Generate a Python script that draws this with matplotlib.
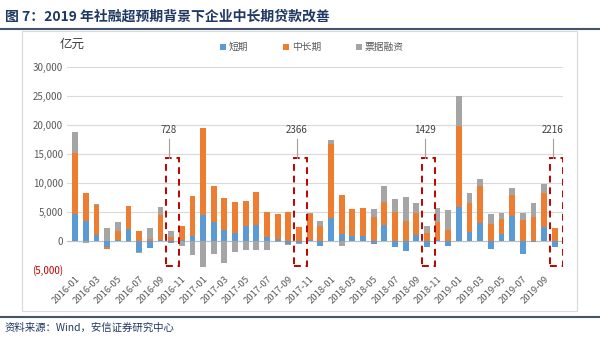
import matplotlib.pyplot as plt
import matplotlib.patches as mpatches
import numpy as np

plt.rcParams['font.family'] = ['Noto Sans CJK SC', 'DejaVu Sans']

# 月份 2016-01 ~ 2019-10
months = [f'{y}-{m:02d}' for y in range(2016, 2020) for m in range(1, 13)][:46]

# 亿元
short_term = [4600, 3400, 1000, -1100, 100, 2000, -1900, -1200, 200, -300, 200, 900,
              4400, 3300, 1900, 1400, 2500, 2700, 600, 300, -600, -400, 100, -900,
              3900, 1250, 800, 800, -450, 2700, -1000, -1650, 1000, -1100, 100, -800,
              5850, 1500, 3100, -1350, 1200, 4300, -2200, -200, 2450, -1100]
mid_long = [10600, 4900, 5200, -200, 1700, 4100, 1800, 300, 4200, 728, 2300, 6800,
            15000, 6100, 5500, 5300, 4400, 5700, 4400, 4300, 5000, 2366, 4600, 2600,
            12900, 6700, 4650, 4800, 4200, 4000, 5000, 3400, 3900, 1429, 3100, 1900,
            14000, 5000, 6400, 3000, 2550, 3700, 3600, 4200, 5850, 2216]
bill = [3600, -400, 200, 2300, 1500, -100, -100, 1900, 1400, 1000, -900, -2500,
        -4500, -2300, -3800, -1900, -1600, -1500, -1600, -100, -100, -200, 200, 900,
        600, -800, 100, 50, 1250, 2700, 2300, 4100, 1700, 1100, 2500, 3400,
        5100, 1700, 1100, 1600, 1050, 1100, 1300, 2400, 1600, 50]

series = [('短期', short_term, '#5B9BD5'),
          ('中长期', mid_long, '#ED7D31'),
          ('票据融资', bill, '#A5A5A5')]

oct_idx = [9, 21, 33, 45]
oct_labels = ['728', '2366', '1429', '2216']

fig = plt.figure(figsize=(6, 3.4), dpi=100)
ax = fig.add_axes([0.112, 0.206, 0.826, 0.597])

x = np.arange(len(months))
pos_bottom = np.zeros(len(months))
neg_bottom = np.zeros(len(months))
for name, vals, color in series:
    v = np.array(vals, dtype=float)
    bottom = np.where(v >= 0, pos_bottom, neg_bottom)
    ax.bar(x, v, width=0.55, bottom=bottom, color=color, label=name, zorder=3)
    pos_bottom += np.where(v >= 0, v, 0)
    neg_bottom += np.where(v < 0, v, 0)

# 红色虚线框 + 标注
for i, lab in zip(oct_idx, oct_labels):
    rect = mpatches.Rectangle((i - 0.45, -4300), 1.2, 18550, fill=False,
                              edgecolor='#C00000', linestyle=(0, (3.5, 2.5)),
                              linewidth=1.4, zorder=4)
    ax.add_patch(rect)
    ax.plot([i - 0.2, i - 0.2], [14250, 17600], color='#A0A0A0', lw=0.8, zorder=4)
    ax.text(i - 0.2, 18200, lab, ha='center', va='bottom', fontsize=7,
            color='#404040', zorder=5)

ax.set_xlim(-0.75, len(months) - 0.25)
ax.set_ylim(-5000, 30000)
ax.set_yticks(range(-5000, 30001, 5000))
ylabels = ['(5,000)'] + [f'{v:,}' for v in range(0, 30001, 5000)]
ax.set_yticklabels(ylabels, fontsize=7, color='#595959')
ax.get_yticklabels()[0].set_color('#C00000')
ax.set_xticks(x[::2])
ax.set_xticklabels(months[::2], rotation=45, ha='right', rotation_mode='anchor',
                   fontsize=6.8, color='#595959')
ax.tick_params(length=0, pad=3)
ax.grid(axis='y', color='#D9D9D9', lw=0.8, zorder=0)
ax.axhline(0, color='#BFBFBF', lw=0.8, zorder=2)
for s in ax.spines.values():
    s.set_visible(False)

leg = ax.legend(loc='lower left', bbox_to_anchor=(0.29, 1.03), ncol=3, frameon=False,
                fontsize=7, handlelength=0.6, handleheight=0.6, handletextpad=0.3,
                columnspacing=3.6, labelcolor='#595959')

fig.text(0.1, 0.86, '亿元', fontsize=9, color='#404040')

# 标题和来源
fig.text(0.008, 0.95, '图 7：2019 年社融超预期背景下企业中长期贷款改善', fontsize=10,
         fontweight='bold', color='#1F3864', va='center')
fig.add_artist(plt.Line2D([0.0, 1.0], [0.915, 0.915], color='#44546A', lw=1.5))
fig.add_artist(mpatches.Rectangle((0.037, 0.085), 0.925, 0.825, fill=False,
                                  edgecolor='#D9D9D9', lw=0.8))
fig.add_artist(plt.Line2D([0.0, 1.0], [0.068, 0.068], color='#44546A', lw=1.5))
fig.text(0.008, 0.035, '资料来源：Wind，安信证券研究中心', fontsize=7.5,
         color='#1F3864', va='center', style='italic')

fig.savefig('out.png', dpi=100)
